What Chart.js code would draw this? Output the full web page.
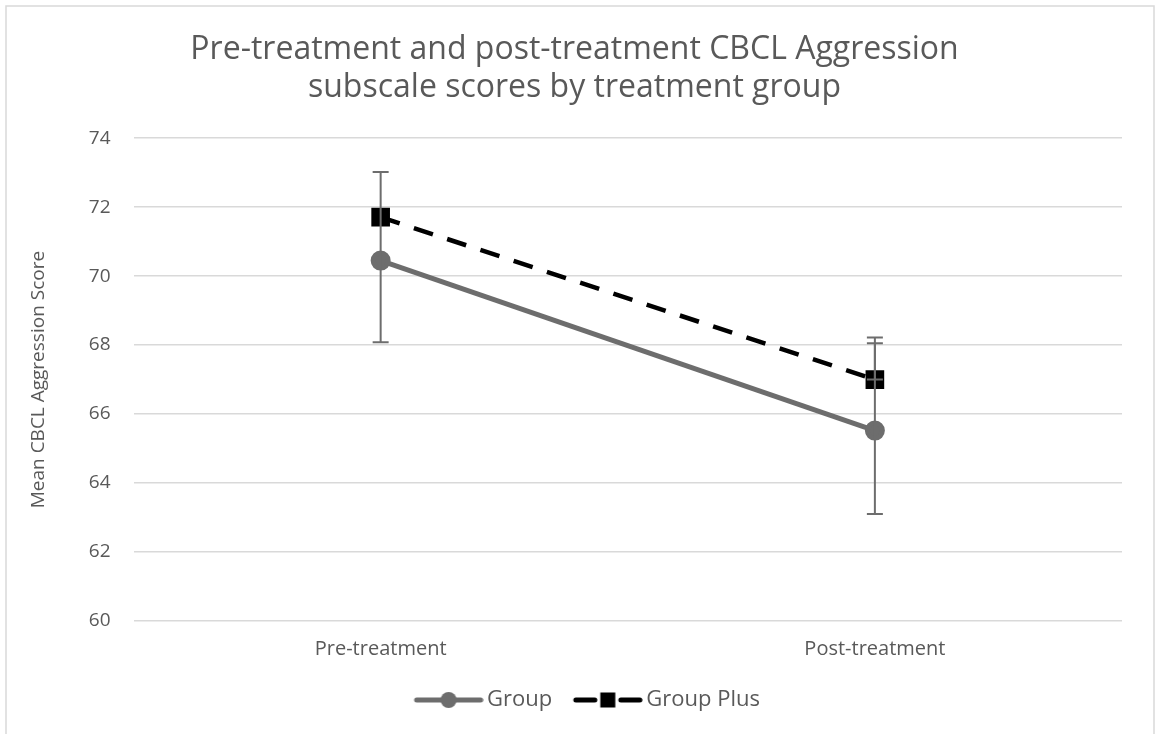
<!DOCTYPE html>
<html>
<head>
<meta charset="utf-8">
<script src="https://cdn.jsdelivr.net/npm/chart.js@4/dist/chart.umd.min.js"></script>
<style>
  html, body { margin: 0; padding: 0; background: #fff; }
  #wrap { width: 1155px; height: 734px; position: relative; }
</style>
</head>
<body>
<div id="wrap"><canvas id="chart" width="1155" height="734"></canvas></div>
<script>
// --- Datos ---
const categories = ['Pre-treatment', 'Post-treatment'];
const groupMeans = [70.45, 65.52];
const groupPlusMeans = [71.71, 67.0];
// barras de error (extremos)
const groupErrLow = [68.08, 63.10];
const groupErrHigh = [73.02, 68.05];
const groupPlusErrLow = [null, 67.0];
const groupPlusErrHigh = [null, 68.22];
const yTicks = [60, 62, 64, 66, 68, 70, 72, 74];

const GRAY = '#6d6d6d';
const TEXT = '#595959';

// icono de leyenda: linea con marcador (desplazado a la derecha dentro del canvas)
function legendIcon(color, dash, shape) {
    const c = document.createElement('canvas');
    c.width = 78; c.height = 18;
    const ctx = c.getContext('2d');
    const x0 = 8; // el icono ocupa x0 .. x0+70
    ctx.strokeStyle = color;
    ctx.lineWidth = 5;
    ctx.lineCap = 'round';
    if (dash) {
        ctx.beginPath(); ctx.moveTo(x0 + 3, 9); ctx.lineTo(x0 + 22, 9); ctx.stroke();
        ctx.beginPath(); ctx.moveTo(x0 + 48, 9); ctx.lineTo(x0 + 67, 9); ctx.stroke();
    } else {
        ctx.beginPath(); ctx.moveTo(x0 + 3, 9); ctx.lineTo(x0 + 67, 9); ctx.stroke();
    }
    ctx.fillStyle = color;
    if (shape === 'circle') {
        ctx.beginPath(); ctx.arc(x0 + 35, 9, 8, 0, Math.PI * 2); ctx.fill();
    } else {
        ctx.fillRect(x0 + 27.5, 1.5, 15, 15);
    }
    return c;
}

const errorBarPlugin = {
    id: 'errorBars',
    afterDatasetsDraw(chart) {
        const ctx = chart.ctx;
        const xs = chart.scales.x, ys = chart.scales.y;
        const sets = [[groupErrLow, groupErrHigh], [groupPlusErrLow, groupPlusErrHigh]];
        ctx.save();
        ctx.strokeStyle = GRAY;
        ctx.lineWidth = 2;
        sets.forEach(([lo, hi]) => {
            categories.forEach((cat, i) => {
                if (lo[i] == null || hi[i] == null) return;
                const x = xs.getPixelForValue(i);
                const y1 = ys.getPixelForValue(lo[i]);
                const y2 = ys.getPixelForValue(hi[i]);
                ctx.beginPath();
                ctx.moveTo(x, y1); ctx.lineTo(x, y2);
                ctx.moveTo(x - 8, y1); ctx.lineTo(x + 8, y1);
                ctx.moveTo(x - 8, y2); ctx.lineTo(x + 8, y2);
                ctx.stroke();
            });
        });
        ctx.restore();
    }
};

const framePlugin = {
    id: 'frame',
    beforeDraw(chart) {
        const ctx = chart.ctx;
        ctx.save();
        ctx.strokeStyle = '#d9d9d9';
        ctx.lineWidth = 1.5;
        ctx.strokeRect(6, 6, 1148, 760);
        ctx.restore();
    },
    // la leyenda del original esta algo desplazada a la derecha
    afterLayout(chart) {
        if (chart.legend) {
            chart.legend.left += 12;
            chart.legend.right += 12;
        }
    }
};

const icons = [legendIcon(GRAY, false, 'circle'), legendIcon('#000', true, 'rect')];

new Chart(document.getElementById('chart').getContext('2d'), {
    type: 'line',
    data: {
        labels: categories,
        datasets: [{
            label: 'Group',
            data: groupMeans,
            borderColor: GRAY,
            backgroundColor: GRAY,
            borderWidth: 5,
            pointStyle: 'circle',
            pointRadius: 7.5,
            pointHoverRadius: 7.5,
            tension: 0
        }, {
            label: 'Group Plus',
            data: groupPlusMeans,
            borderColor: '#000',
            backgroundColor: '#000',
            borderWidth: 4.5,
            borderDash: [20, 15],
            pointStyle: 'rect',
            pointRadius: 10,
            pointHoverRadius: 10,
            tension: 0
        }]
    },
    options: {
        responsive: false,
        animation: false,
        layout: { padding: { left: 27, right: 33, top: 0, bottom: 13 } },
        scales: {
            x: {
                offset: true,
                grid: { display: false, offset: true },
                border: { display: false },
                ticks: { color: TEXT, font: { family: 'Open Sans', size: 20 }, padding: 8 }
            },
            y: {
                min: 60,
                max: 74,
                afterBuildTicks: (axis) => { axis.ticks = yTicks.map(v => ({ value: v })); },
                grid: { color: '#d9d9d9', lineWidth: 1.5, drawTicks: false },
                border: { display: false },
                ticks: { color: TEXT, font: { family: 'Open Sans', size: 19 }, padding: 23 },
                title: {
                    display: true,
                    text: 'Mean CBCL Aggression Score',
                    color: TEXT,
                    font: { family: 'Open Sans', size: 19 },
                    padding: { top: 0, bottom: 16 }
                }
            }
        },
        plugins: {
            title: {
                display: true,
                text: ['Pre-treatment and post-treatment CBCL Aggression', 'subscale scores by treatment group'],
                color: TEXT,
                font: { family: 'Open Sans', size: 32, weight: 'normal', lineHeight: 1.19 },
                padding: { top: 31, bottom: 31 }
            },
            legend: {
                position: 'bottom',
                labels: {
                    color: TEXT,
                    font: { family: 'Open Sans', size: 22 },
                    usePointStyle: true,
                    pointStyleWidth: 63,
                    padding: 20,
                    generateLabels: (chart) => {
                        const items = Chart.defaults.plugins.legend.labels.generateLabels(chart);
                        items.forEach((it, i) => { it.pointStyle = icons[i]; });
                        return items;
                    }
                }
            },
            tooltip: { enabled: false }
        }
    },
    plugins: [errorBarPlugin, framePlugin]
});
</script>
</body>
</html>
